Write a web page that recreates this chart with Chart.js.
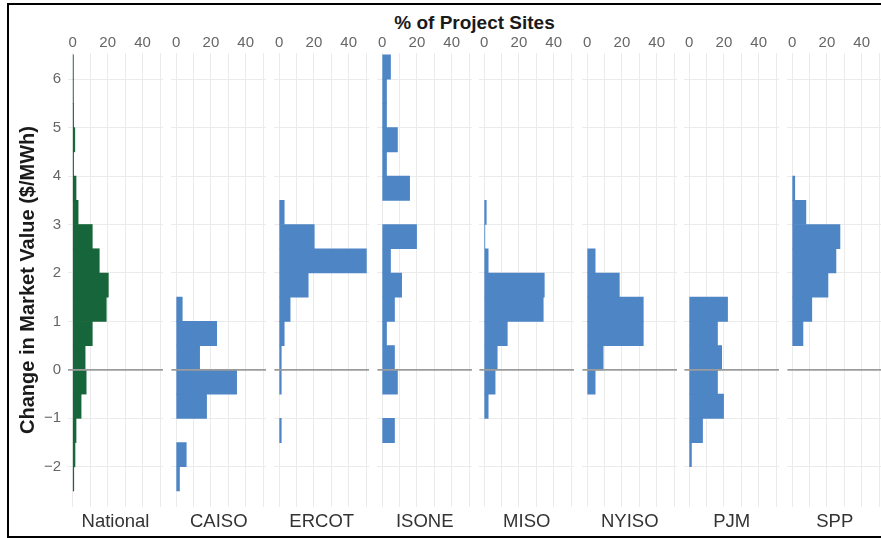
<!DOCTYPE html>
<html>
<head>
<meta charset="utf-8">
<script src="https://cdn.jsdelivr.net/npm/chart.js@4.4.0/dist/chart.umd.min.js"></script>
<style>
  html, body { margin: 0; padding: 0; background: #fff; }
  #figure {
    position: relative; width: 881px; height: 538px; overflow: hidden;
    font-family: 'Liberation Sans', Arial, sans-serif;
  }
  #frame {
    position: absolute; left: 7px; top: 3px; width: 900px; height: 535px;
    box-sizing: border-box; border: 2.5px solid #000; border-right: none;
    pointer-events: none; z-index: 2;
  }
  #title {
    position: absolute; left: 68px; width: 813px; top: 12px; line-height: 22px;
    text-align: center; font-weight: bold; font-size: 19px; color: #1a1a1a;
  }
  canvas { position: absolute; top: 0; }
</style>
</head>
<body>
<div id="figure">
  <div id="title">% of Project Sites</div>
  <div id="frame"></div>
</div>
<script>
// ===== Change in market value by region — faceted histograms =====

// Bin midpoints ($/MWh), bins are 0.5 wide, from -2.5 up to 6.5
const binMids = [-2.25, -1.75, -1.25, -0.75, -0.25, 0.25, 0.75, 1.25, 1.75,
                 2.25, 2.75, 3.25, 3.75, 4.25, 4.75, 5.25, 5.75, 6.25];

// % of project sites in each bin (same order as binMids)
const national = [0.6, 1.3, 1.9, 4.8, 7.7, 7.1, 11.2, 19.2, 20.4, 15.2, 11.2, 3.1, 1.9, 0.5, 1.2, 0.5, 0.4, 0.4];
const caiso    = [1.9, 5.8, 0, 17.5, 34.8, 13.5, 23.3, 3.5, 0, 0, 0, 0, 0, 0, 0, 0, 0, 0];
const ercot    = [0, 0, 1.2, 0, 1.2, 1.2, 2.9, 6.3, 16.7, 50.2, 20.2, 2.9, 0, 0, 0, 0, 0, 0];
const isone    = [0, 0, 7.1, 0, 8.8, 7.1, 2.5, 7.1, 11.2, 4.8, 19.8, 0, 15.8, 2.5, 8.8, 2.5, 2.5, 4.8];
const miso     = [0, 0, 0, 2.3, 6.3, 7.5, 13.3, 34.0, 34.6, 2.3, 0.4, 1.2, 0, 0, 0, 0, 0, 0];
const nyiso    = [0, 0, 0, 0, 4.6, 9.2, 32.3, 32.3, 18.5, 4.6, 0, 0, 0, 0, 0, 0, 0, 0];
const pjm      = [0, 1.3, 7.7, 19.8, 16.3, 18.7, 16.3, 22.1, 0, 0, 0, 0, 0, 0, 0, 0, 0, 0];
const spp      = [0, 0, 0, 0, 0, 0, 6.2, 11.3, 20.6, 25.2, 27.5, 7.9, 1.5, 0, 0, 0, 0, 0];

const regions = ['National', 'CAISO', 'ERCOT', 'ISONE', 'MISO', 'NYISO', 'PJM', 'SPP'];
const regionValues = [national, caiso, ercot, isone, miso, nyiso, pjm, spp];

// x ticks (% of sites) and axis ranges
const pctTicks = [0, 20, 40];
const valueRange = [-2.83, 6.54];
const pctRange = [-2.7, 51.7];

const GREEN = '#17653a';
const BLUE = '#4d85c5';
const GRID = '#ebebeb';
const FONT = "'Liberation Sans', Arial, sans-serif";

Chart.defaults.font.family = FONT;
Chart.defaults.animation = false;

// Horizontal reference line at zero, drawn over the bars
const zeroLine = {
    id: 'zeroLine',
    afterDatasetsDraw(chart) {
        const { ctx, chartArea, scales } = chart;
        const y = scales.y.getPixelForValue(0);
        ctx.save();
        ctx.strokeStyle = '#9b9b9b';
        ctx.lineWidth = 1.6;
        ctx.beginPath();
        ctx.moveTo(chartArea.left, y);
        ctx.lineTo(chartArea.right, y);
        ctx.stroke();
        ctx.restore();
    }
};

const panelLefts = [68, 171, 274, 377, 479, 582, 684, 787];
const panelWidth = 95;
const axisWidth = 58;   // room for the y ticks + title on the first panel

function makePanel(i) {
    const first = i === 0;
    const canvas = document.createElement('canvas');
    const left = first ? panelLefts[0] - axisWidth : panelLefts[i];
    const width = first ? panelWidth + axisWidth : panelWidth;
    canvas.width = width;
    canvas.height = 538;
    canvas.style.left = left + 'px';
    canvas.style.width = width + 'px';
    canvas.style.height = '538px';
    document.getElementById('figure').appendChild(canvas);

    const vals = regionValues[i];
    new Chart(canvas, {
        type: 'bar',
        data: {
            datasets: [{
                // empty bins get no bar at all
                data: binMids.map((m, k) => ({ x: vals[k] > 0 ? vals[k] : null, y: m })),
                backgroundColor: first ? GREEN : BLUE,
                borderWidth: 0,
                barPercentage: 1,
                categoryPercentage: 1,
            }]
        },
        options: {
            indexAxis: 'y',
            responsive: false,
            devicePixelRatio: 1,
            layout: { padding: 0, autoPadding: false },
            events: [],
            scales: {
                x: {
                    type: 'linear',
                    position: 'top',
                    min: pctRange[0],
                    max: pctRange[1],
                    afterFit: s => { s.height = 53; },
                    grid: { color: GRID, lineWidth: 1, drawTicks: false },
                    border: { display: false },
                    ticks: {
                        stepSize: 10,
                        includeBounds: false,
                        maxRotation: 0,
                        autoSkip: false,
                        padding: 1,
                        color: '#666',
                        font: { size: 15 },
                        callback: v => (pctTicks.includes(v) ? String(v) : '')
                    }
                },
                // bottom axis only carries the region name
                facet: {
                    type: 'linear',
                    axis: 'x',
                    position: 'bottom',
                    min: pctRange[0],
                    max: pctRange[1],
                    afterFit: s => { s.height = 31; },
                    grid: { display: false, drawTicks: false },
                    border: { display: false },
                    ticks: { display: false },
                    title: {
                        display: true,
                        text: regions[i],
                        color: '#333',
                        font: { size: 18.5, weight: 'normal' },
                        padding: { top: 0, bottom: 5 }
                    }
                },
                y: {
                    type: 'linear',
                    position: 'left',
                    min: valueRange[0],
                    max: valueRange[1],
                    offset: false,
                    afterFit: s => { s.width = first ? axisWidth : 0; },
                    grid: { color: GRID, lineWidth: 1, drawTicks: false, offset: false },
                    border: { display: false },
                    ticks: {
                        display: first,
                        stepSize: 1,
                        includeBounds: false,
                        padding: 7,
                        color: '#666',
                        font: { size: 15 },
                        callback: v => (v < 0 ? '\u2212' + Math.abs(v) : String(v))
                    },
                    title: {
                        display: first,
                        text: 'Change in Market Value ($/MWh)',
                        color: '#1a1a1a',
                        font: { size: 20, weight: 'bold' },
                        padding: { top: 6, bottom: 0 }
                    }
                }
            },
            plugins: {
                legend: { display: false },
                tooltip: { enabled: false }
            }
        },
        plugins: [zeroLine]
    });
}

regions.forEach((_, i) => makePanel(i));
</script>
</body>
</html>
